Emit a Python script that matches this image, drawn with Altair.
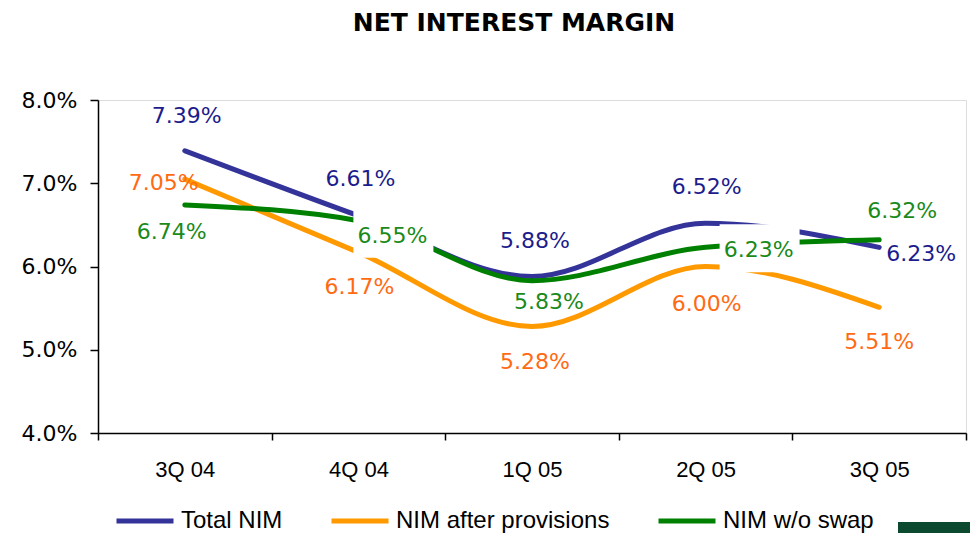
import altair as alt
import pandas as pd

quarters = ["3Q 04", "4Q 04", "1Q 05", "2Q 05", "3Q 05"]
series_names = ["Total NIM", "NIM after provisions", "NIM w/o swap"]
total_nim = [7.39, 6.61, 5.88, 6.52, 6.23]
nim_after_provisions = [7.05, 6.17, 5.28, 6.00, 5.51]
nim_wo_swap = [6.74, 6.55, 5.83, 6.23, 6.32]

line_colors = ["#333399", "#FF9900", "#008000"]
label_colors = ["#1C1C8C", "#FF6A13", "#1A8A1A"]

# label placement style (pixel offsets from each point)
label_dx = [[2, 2, 3, 1, 42], [-21, 1, 3, 1, 0], [-13, 34, 17, 53, 23]]
label_dy = [[-35, -37, -35, -36, 7], [4, 35, 36, 37, 35], [27, 15, 21, 3, -29]]
label_boxed = [[False] * 5, [False] * 5, [False, True, False, True, False]]

values = [total_nim, nim_after_provisions, nim_wo_swap]
rows = []
for si, name in enumerate(series_names):
    for qi, q in enumerate(quarters):
        rows.append({"series": name, "quarter": q, "value": values[si][qi],
                     "sid": si, "qid": qi})
df = pd.DataFrame(rows)

x_enc = alt.X("quarter:N", sort=quarters,
              scale=alt.Scale(paddingInner=0, paddingOuter=0),
              axis=alt.Axis(title=None, tickBand="extent", labelAngle=0,
                            labelFont="Liberation Sans", labelFontSize=22,
                            labelColor="black", labelPadding=19, tickSize=7,
                            tickColor="black", domainColor="black",
                            domainWidth=1.5, tickWidth=1.5, grid=False))
y_enc = alt.Y("value:Q", scale=alt.Scale(domain=[4, 8], nice=False, zero=False),
              axis=alt.Axis(title=None, values=[4, 5, 6, 7, 8],
                            labelExpr="format(datum.value, '.1f') + '%'",
                            labelFont="DejaVu Sans", labelFontSize=22,
                            labelColor="black", labelPadding=13, tickSize=8,
                            tickColor="black", domainColor="black",
                            domainWidth=1.5, tickWidth=1.5, grid=False))

base = alt.Chart(df)

lines = base.mark_line(interpolate="monotone", strokeWidth=5, strokeCap="round").encode(
    x=x_enc, y=y_enc,
    color=alt.Color("series:N",
                    scale=alt.Scale(domain=series_names, range=line_colors),
                    legend=alt.Legend(title=None, orient="none", legendX=16, legendY=390,
                                      direction="horizontal", symbolType="stroke",
                                      symbolSize=3249, symbolStrokeWidth=5,
                                      labelFont="Liberation Sans", labelFontSize=24,
                                      labelColor="black", columnPadding=38,
                                      labelOffset=5, padding=0, labelLimit=0)),
    detail="series:N",
)

layers = [lines]
for si in range(len(series_names)):
    for qi in range(len(quarters)):
        if label_boxed[si][qi]:
            layers.append(
                base.transform_filter((alt.datum.sid == si) & (alt.datum.qid == qi))
                .mark_point(shape="M-1,-0.6H1V0.6H-1Z", size=6400, filled=True,
                            color="white", opacity=1, strokeWidth=0,
                            xOffset=label_dx[si][qi] + 1, yOffset=label_dy[si][qi] - 2)
                .encode(x=alt.X("quarter:N", sort=quarters), y="value:Q")
            )
for si in range(len(series_names)):
    for qi in range(len(quarters)):
        layers.append(
            base.transform_filter((alt.datum.sid == si) & (alt.datum.qid == qi))
            .mark_text(font="DejaVu Sans", fontSize=22, color=label_colors[si],
                       align="center", baseline="middle",
                       dx=label_dx[si][qi], dy=label_dy[si][qi])
            .encode(x=alt.X("quarter:N", sort=quarters), y="value:Q",
                    text=alt.Text("label:N"))
            .transform_calculate(label="format(datum.value, '.2f') + '%'")
        )

logo = alt.Chart(pd.DataFrame({"k": [0]})).mark_rect(color="#0B4A2E").encode(
    x=alt.value(800), x2=alt.value(885), y=alt.value(422), y2=alt.value(450)
)
layers.append(logo)

chart = alt.layer(*layers).properties(
    width=868, height=333,
    padding={"left": 90, "top": 92, "right": 4, "bottom": 100},
    autosize=alt.AutoSizeParams(type="none"),
    title=alt.TitleParams("NET INTEREST MARGIN", font="DejaVu Sans", fontSize=25,
                          fontWeight="bold", color="black", anchor="middle",
                          dx=-18, offset=53),
).configure_view(stroke=None).configure(background="white")

chart.save("out.html", embed_options={"renderer": "svg", "actions": False})
